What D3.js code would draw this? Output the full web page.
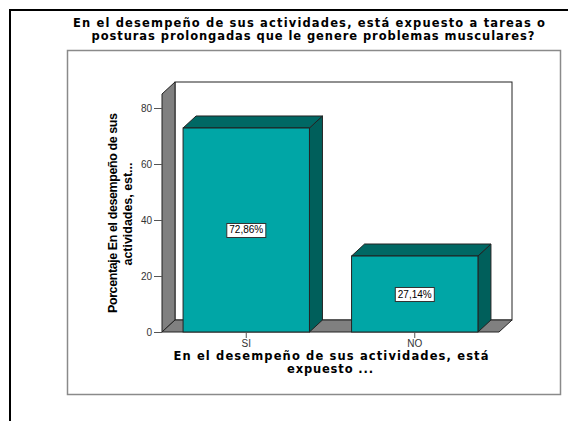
<!DOCTYPE html>
<html>
<head>
<meta charset="utf-8">
<script src="https://cdn.jsdelivr.net/npm/d3@7"></script>
<style>
  html, body { margin: 0; padding: 0; background: #fff; }
  svg { display: block; }
</style>
</head>
<body>
<svg id="chart" width="568" height="421"></svg>
<script>
// Data
const categories = ["SI", "NO"];
const percentages = [72.86, 27.14];
const valueLabels = ["72,86%", "27,14%"];
const yTicks = [0, 20, 40, 60, 80];
const titleLines = [
  "En el desempeño de sus actividades, está expuesto a  tareas o",
  "posturas prolongadas que le genere problemas musculares?"
];
const xTitleLines = ["En el desempeño de sus actividades, está", "expuesto ..."];
const yTitleLines = ["Porcentaje En el desempeño de sus", "actividades, est..."];

const svg = d3.select("#chart");

// spaced, fixed-width text line
function textLine(parent, str, cx, cy, width, opts) {
  return parent.append("text")
    .attr("x", cx).attr("y", cy)
    .attr("text-anchor", "middle")
    .attr("font-family", opts.family)
    .attr("font-weight", "bold")
    .attr("font-size", opts.size)
    .attr("fill", "#000")
    .attr("textLength", width)
    .attr("lengthAdjust", "spacing")
    .text(str);
}

// page frame (top + left rule)
svg.append("path")
  .attr("d", "M10,421 L10,10 L568,10")
  .attr("fill", "none").attr("stroke", "#000").attr("stroke-width", 2);

// chart panel border
svg.append("rect")
  .attr("x", 67.5).attr("y", 50.5).attr("width", 493).attr("height", 344)
  .attr("fill", "#fff").attr("stroke", "#8a8a8a").attr("stroke-width", 1.5);

// title
const titleFont = { family: "DejaVu Sans, sans-serif", size: 11.5 };
textLine(svg, titleLines[0], 309, 27, 472, titleFont);
textLine(svg, titleLines[1], 313, 40, 443, titleFont);

// scales
const x = d3.scaleBand().domain(categories).range([162, 499]).paddingInner(0.25).paddingOuter(0.125);
const y = d3.scaleLinear().domain([0, 85]).range([332, 94]);
const dx = 13, dy = 12;
const x0 = x.range()[0], x1 = x.range()[1];
const yBase = y(0), yTop = y(85);

const wallFill = "#808080", edge = "#222";

// back wall
svg.append("rect")
  .attr("x", x0 + dx).attr("y", yTop - dy)
  .attr("width", x1 - x0).attr("height", yBase - yTop)
  .attr("fill", "#fff").attr("stroke", edge).attr("stroke-width", 1);

// left wall
svg.append("polygon")
  .attr("points", [[x0, yBase], [x0, yTop], [x0 + dx, yTop - dy], [x0 + dx, yBase - dy]].join(" "))
  .attr("fill", wallFill).attr("stroke", edge).attr("stroke-width", 1);

// floor
svg.append("polygon")
  .attr("points", [[x0, yBase], [x1, yBase], [x1 + dx, yBase - dy], [x0 + dx, yBase - dy]].join(" "))
  .attr("fill", wallFill).attr("stroke", edge).attr("stroke-width", 1);

// bars
const bars = svg.append("g").selectAll("g").data(categories).join("g");
const bw = x.bandwidth();
bars.each(function (c, i) {
  const g = d3.select(this);
  const bx = x(c), by = y(percentages[i]);
  g.append("polygon")
    .attr("points", [[bx + bw, by], [bx + bw + dx, by - dy], [bx + bw + dx, yBase - dy], [bx + bw, yBase]].join(" "))
    .attr("fill", "#005f5b").attr("stroke", edge).attr("stroke-width", 1);
  g.append("polygon")
    .attr("points", [[bx, by], [bx + dx, by - dy], [bx + bw + dx, by - dy], [bx + bw, by]].join(" "))
    .attr("fill", "#006864").attr("stroke", edge).attr("stroke-width", 1);
  g.append("rect")
    .attr("x", bx).attr("y", by).attr("width", bw).attr("height", yBase - by)
    .attr("fill", "#00a6a6").attr("stroke", edge).attr("stroke-width", 1);

  // value label box
  const cx = bx + bw / 2, cy = (by + yBase) / 2;
  const lbl = g.append("g");
  const txt = lbl.append("text")
    .attr("x", cx).attr("y", cy + 3.5).attr("text-anchor", "middle")
    .attr("font-family", "Liberation Sans, Arial, sans-serif").attr("font-size", 10)
    .attr("fill", "#000").text(valueLabels[i]);
  const bb = txt.node().getBBox();
  lbl.insert("rect", "text")
    .attr("x", bb.x - 2.5).attr("y", cy - 6.5).attr("width", bb.width + 5).attr("height", 14)
    .attr("fill", "#fff").attr("stroke", "#333").attr("stroke-width", 1);
});

// y axis ticks
const yAxis = svg.append("g").attr("transform", `translate(${x0},0)`)
  .call(d3.axisLeft(y).tickValues(yTicks).tickSize(8).tickPadding(2));
yAxis.select(".domain").remove();
yAxis.selectAll("line").attr("stroke", "#555");
yAxis.selectAll("text").attr("font-family", "Liberation Sans, Arial, sans-serif")
  .attr("font-size", 10).attr("fill", "#333");

// x axis ticks
const xAxis = svg.append("g").attr("transform", `translate(0,${yBase})`)
  .call(d3.axisBottom(x).tickSize(6).tickPadding(2));
xAxis.select(".domain").remove();
xAxis.selectAll("line").attr("stroke", "#555");
xAxis.selectAll("text").attr("font-family", "Liberation Sans, Arial, sans-serif")
  .attr("font-size", 10).attr("fill", "#333");

// x axis title
const axisTitleFont = { family: "DejaVu Sans, sans-serif", size: 11.5 };
textLine(svg, xTitleLines[0], 331, 360, 315, axisTitleFont);
textLine(svg, xTitleLines[1], 330, 373, 86, axisTitleFont);

// y axis title (rotated)
const yTitle = svg.append("g").attr("transform", "translate(0,213) rotate(-90)");
const yFont = { family: "Liberation Sans, Arial, sans-serif", size: 12.5 };
textLine(yTitle, yTitleLines[0], 0, 116.5, 200, yFont);
textLine(yTitle, yTitleLines[1], -1, 131.5, 103, yFont);
</script>
</body>
</html>
